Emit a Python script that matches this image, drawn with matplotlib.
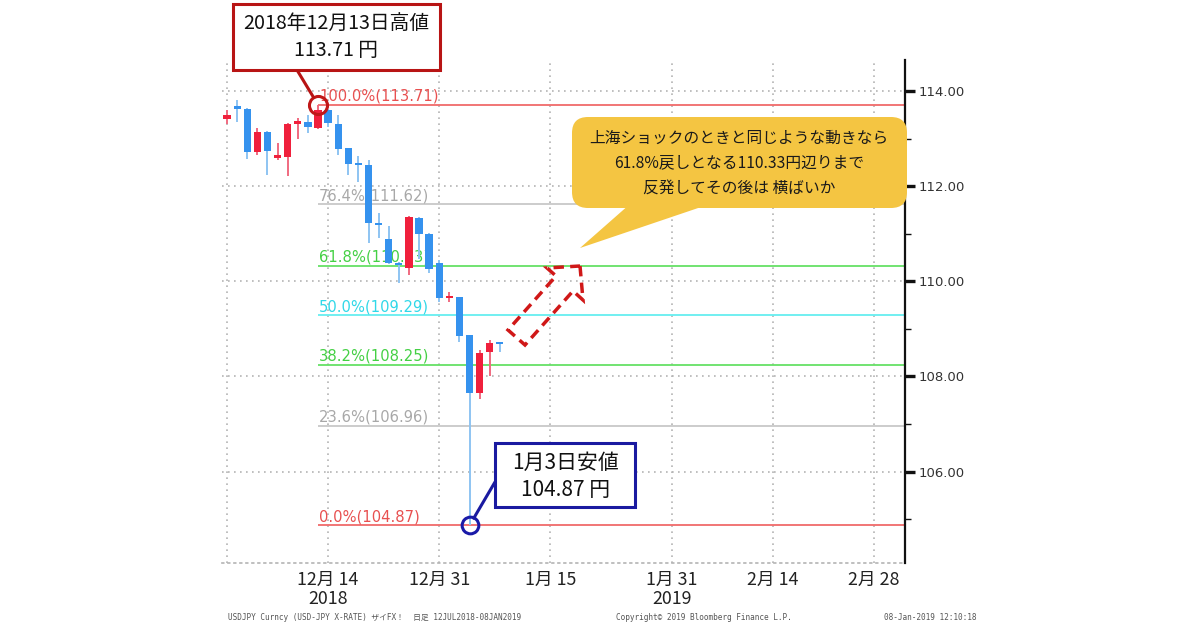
import numpy as np
import matplotlib
matplotlib.use('Agg')
import matplotlib.pyplot as plt
from matplotlib.patches import Rectangle, FancyBboxPatch, Polygon, ConnectionPatch
from matplotlib.transforms import Affine2D

plt.rcParams['font.family'] = ['Noto Sans CJK JP', 'DejaVu Sans']

# ---------------- data ----------------
dates = ['2018-11-30', '2018-12-03', '2018-12-04', '2018-12-05', '2018-12-06',
         '2018-12-07', '2018-12-10', '2018-12-11', '2018-12-12', '2018-12-13',
         '2018-12-14', '2018-12-17', '2018-12-18', '2018-12-19', '2018-12-20',
         '2018-12-21', '2018-12-24', '2018-12-25', '2018-12-26', '2018-12-27',
         '2018-12-28', '2018-12-31', '2019-01-01', '2019-01-02', '2019-01-03',
         '2019-01-04', '2019-01-07', '2019-01-08']
opens = [113.40, 113.68, 113.62, 112.72, 113.14, 112.60, 112.61, 113.30, 113.35, 113.22,
         113.60, 113.31, 112.80, 112.49, 112.45, 111.23, 110.89, 110.39, 110.28, 111.33,
         111.00, 110.39, 109.65, 109.67, 108.87, 107.66, 108.52, 108.70]
highs = [113.60, 113.81, 113.64, 113.22, 113.16, 112.91, 113.33, 113.43, 113.50, 113.71,
         113.62, 113.50, 112.81, 112.63, 112.55, 111.44, 111.16, 110.41, 111.37, 111.35,
         111.02, 110.45, 109.78, 109.68, 108.88, 108.56, 108.77, 108.73]
lows = [113.30, 113.35, 112.57, 112.66, 112.24, 112.55, 112.21, 112.99, 113.12, 113.20,
        113.24, 112.66, 112.24, 112.09, 110.81, 110.91, 110.37, 109.97, 110.13, 110.47,
        110.18, 109.57, 109.57, 108.73, 104.87, 107.53, 108.01, 108.52]
closes = [113.50, 113.62, 112.72, 113.14, 112.74, 112.65, 113.31, 113.36, 113.24, 113.60,
          113.33, 112.78, 112.47, 112.45, 111.23, 111.18, 110.39, 110.34, 111.35, 111.00,
          110.26, 109.65, 109.69, 108.85, 107.66, 108.50, 108.71, 108.68]

fib_names = ['100.0%', '76.4%', '61.8%', '50.0%', '38.2%', '23.6%', '0.0%']
fib_values = [113.71, 111.62, 110.33, 109.29, 108.25, 106.96, 104.87]
fib_line_colors = ['#f06a6a', '#c8c8c8', '#66e066', '#66eef0', '#66e066', '#c8c8c8', '#f06a6a']
fib_text_colors = ['#e85050', '#a8a8a8', '#44d044', '#30d8e8', '#44d044', '#a8a8a8', '#e85050']
fib_start_date = '2018-12-13'

tick_dates = ['2018-12-14', '2018-12-31', '2019-01-15', '2019-01-31', '2019-02-14', '2019-02-28']
tick_labels = ['12月 14\n2018', '12月 31', '1月 15', '1月 31\n2019', '2月 14', '2月 28']
grid_extra_dates = ['2018-11-30']
y_major = [106, 108, 110, 112, 114]
y_minor = [105, 107, 109, 111, 113]

high_date, high_value = '2018-12-13', 113.71
low_date, low_value = '2019-01-03', 104.87

title_high = ['2018年12月13日高値', '113.71 円']
title_low = ['1月3日安値', '104.87 円']
bubble_lines = ['上海ショックのときと同じような動きなら',
                '61.8%戻しとなる110.33円辺りまで',
                '反発してその後は 横ばいか']
footer_left = 'USDJPY Curncy (USD-JPY X-RATE) ザイFX！  日足 12JUL2018-08JAN2019'
footer_mid = 'Copyright© 2019 Bloomberg Finance L.P.'
footer_right = '08-Jan-2019 12:10:18'

# ---------------- figure ----------------
W, H, DPI = 1200, 630, 100
fig = plt.figure(figsize=(W / DPI, H / DPI), dpi=DPI)
fig.patch.set_facecolor('white')
PX = Affine2D().scale(1 / DPI, -1 / DPI).translate(0, H / DPI) + fig.dpi_scale_trans

L, R, T, B = 222, 905, 60, 563
ax = fig.add_axes([L / W, 1 - B / H, (R - L) / W, (B - T) / H])

base = '2018-12-14'
def bidx(d):
    return np.busday_count(base, d) if d >= base else -np.busday_count(d, base)

x = np.array([bidx(d) for d in dates], dtype=float)
o = np.array(opens); h = np.array(highs); l = np.array(lows); c = np.array(closes)
up = c >= o

ax.set_xlim(-10.5, 57.1)
ax.set_ylim(104.08, 114.65)

dot = (0, (1, 2.6))
gcol = '#b4b4b4'
for v in y_major:
    ax.axhline(v, color=gcol, lw=1.2, ls=dot, zorder=1)
for d in tick_dates + grid_extra_dates:
    ax.axvline(bidx(d), color=gcol, lw=1.2, ls=dot, zorder=1)

# fib lines
xs = bidx(fib_start_date)
for name, v, lc, tc in zip(fib_names, fib_values, fib_line_colors, fib_text_colors):
    ax.plot([xs, 57.1], [v, v], color=lc, lw=1.3, zorder=2, solid_capstyle='butt')
    ax.text(xs + 0.1, v + 0.02, f'{name}({v:.2f})', color=tc, fontsize=10.6,
            family=['DejaVu Sans'], ha='left', va='bottom', zorder=2)

# candles
blue, red = '#3592ee', '#f0203c'
wick_cols = np.where(up, '#f06a80', '#8ec4f2')
body_cols = np.where(up, red, blue)
ax.vlines(x, l, h, colors=wick_cols, lw=1.4, zorder=3)
ax.bar(x, np.maximum(np.abs(c - o), 0.045), bottom=np.minimum(o, c), width=0.72,
       color=body_cols, zorder=4, linewidth=0)

# circles
ax.plot(bidx(high_date), high_value, 'o', mfc='none', mec='#c01818', ms=13, mew=2.2,
        zorder=8, clip_on=False)
ax.plot(bidx(low_date), low_value, 'o', mfc='none', mec='#1a1aa8', ms=12, mew=2.2,
        zorder=8, clip_on=False)

# axes styling
for s in ['top', 'left']:
    ax.spines[s].set_visible(False)
ax.spines['bottom'].set_linestyle(dot)
ax.spines['bottom'].set_color(gcol)
ax.spines['bottom'].set_linewidth(1.2)
ax.spines['right'].set_color('#111111')
ax.spines['right'].set_linewidth(1.6)
ax.yaxis.tick_right()
ax.set_yticks(y_major)
ax.set_yticklabels([f'{v:.2f}' for v in y_major], family=['DejaVu Sans'], fontsize=9.5,
                   color='#333333')
ax.set_yticks(y_minor, minor=True)
ax.tick_params(axis='y', which='major', length=7, width=2.4, color='#111111', pad=3)
ax.tick_params(axis='y', which='minor', length=4, width=1, color='#111111')
ax.set_xticks([bidx(d) for d in tick_dates])
ax.set_xticklabels(tick_labels, fontsize=12.8, color='#222222', linespacing=1.05)
ax.tick_params(axis='x', length=0, pad=6)
ax.set_facecolor('white')

# ---------------- annotations (pixel space) ----------------
# top-left box
fig.add_artist(Rectangle((233, 4), 207, 66, transform=PX, fc='white', ec='#b81414',
                         lw=2.2, zorder=10))
fig.text(336, 24, title_high[0], transform=PX, ha='center', va='center', fontsize=14.2,
         color='#111111', zorder=11)
fig.text(336, 51, title_high[1], transform=PX, ha='center', va='center', fontsize=14.2,
         color='#111111', zorder=11)
fig.add_artist(ConnectionPatch(xyA=(297, 70), coordsA=PX,
                               xyB=(bidx(high_date), high_value), coordsB=ax.transData,
                               color='#b81414', lw=2.2, shrinkA=0, shrinkB=6.5, zorder=9))

# bottom box
fig.add_artist(Rectangle((495, 443), 140, 64, transform=PX, fc='white', ec='#1a1aa0',
                         lw=2.2, zorder=10))
fig.text(566, 463, title_low[0], transform=PX, ha='center', va='center', fontsize=15,
         color='#111111', zorder=11)
fig.text(566, 490, title_low[1], transform=PX, ha='center', va='center', fontsize=15,
         color='#111111', zorder=11)
fig.add_artist(ConnectionPatch(xyA=(495, 482), coordsA=PX,
                               xyB=(bidx(low_date), low_value), coordsB=ax.transData,
                               color='#1a1aa0', lw=2.2, shrinkA=0, shrinkB=6, zorder=9))

# speech bubble
bcol = '#f4c542'
fig.add_artist(FancyBboxPatch((572, 117), 335, 91, boxstyle='round,pad=0,rounding_size=16',
                              transform=PX, fc=bcol, ec='none', zorder=10))
fig.add_artist(Polygon([(630, 204), (710, 204), (580, 248)], closed=True, transform=PX,
                       fc=bcol, ec='none', zorder=10))
for yy, s in zip([138, 163, 188], bubble_lines):
    fig.text(739, yy, s, transform=PX, ha='center', va='center', fontsize=11.3,
             color='#1a1a1a', zorder=11)

# dashed hollow arrow
arrow_pts = [(580, 266), (583, 300), (573, 291), (525, 345), (508, 330), (556, 276), (547, 268)]
fig.add_artist(Polygon(arrow_pts, closed=True, transform=PX, fill=False, ec='#d01818',
                       lw=2.5, ls=(0, (3, 1.8)), joinstyle='miter', zorder=9))

# footer
ff = ['DejaVu Sans Mono', 'Noto Sans CJK JP']
fig.text(228, 617, footer_left, transform=PX, ha='left', va='center', fontsize=5.6,
         family=ff, color='#555555')
fig.text(616, 617, footer_mid, transform=PX, ha='left', va='center', fontsize=5.6,
         family=ff, color='#555555')
fig.text(976, 617, footer_right, transform=PX, ha='right', va='center', fontsize=5.6,
         family=ff, color='#555555')

fig.savefig('out.png', dpi=DPI, facecolor='white')
